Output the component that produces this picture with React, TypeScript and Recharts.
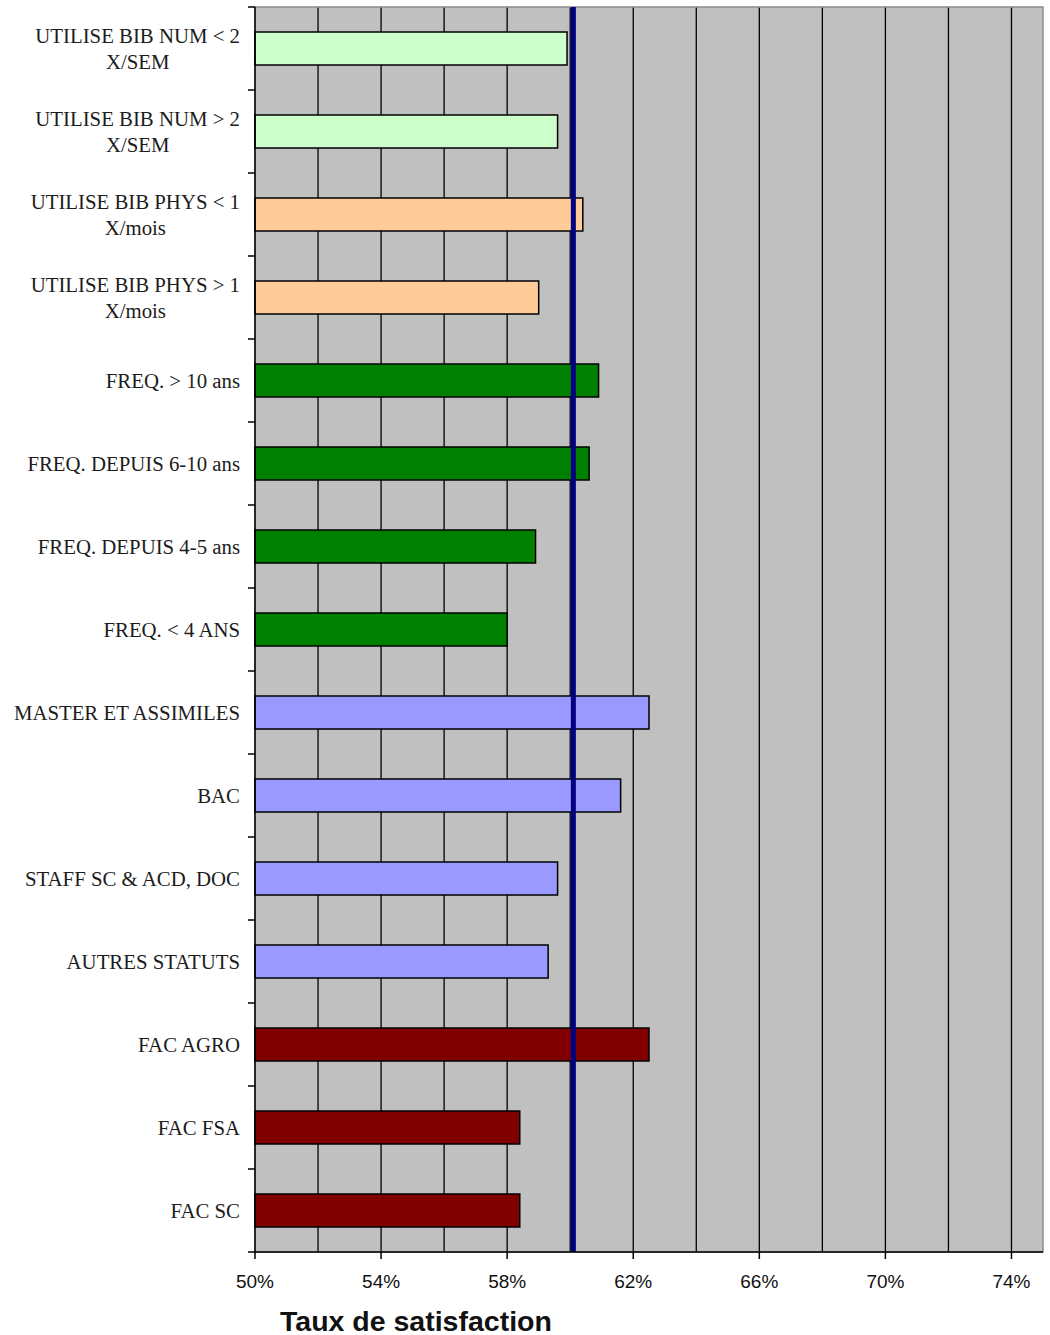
import { BarChart, Bar, XAxis, YAxis, CartesianGrid, ReferenceLine, ReferenceArea, Cell } from 'recharts';

// satisfaction rate per respondent group
const categories = [
  'UTILISE BIB NUM < 2\nX/SEM',
  'UTILISE BIB NUM > 2\nX/SEM',
  'UTILISE BIB PHYS < 1\nX/mois',
  'UTILISE BIB PHYS > 1\nX/mois',
  'FREQ. > 10 ans',
  'FREQ. DEPUIS 6-10 ans',
  'FREQ. DEPUIS 4-5 ans',
  'FREQ. < 4 ANS',
  'MASTER ET ASSIMILES',
  'BAC',
  'STAFF SC & ACD, DOC',
  'AUTRES STATUTS',
  'FAC AGRO',
  'FAC FSA',
  'FAC SC',
];
const values = [59.9, 59.6, 60.4, 59.0, 60.9, 60.6, 58.9, 58.0, 62.5, 61.6, 59.6, 59.3, 62.5, 58.4, 58.4];
const groups = ['num', 'num', 'phys', 'phys', 'freq', 'freq', 'freq', 'freq', 'statut', 'statut', 'statut', 'statut', 'fac', 'fac', 'fac'];
const xTicks = [50, 54, 58, 62, 66, 70, 74];
const gridTicks = [52, 54, 56, 58, 60, 62, 64, 66, 68, 70, 72, 74];
const average = 60.1;

const GROUP_COLORS: Record<string, string> = {
  num: '#CCFFCC',
  phys: '#FFCC99',
  freq: '#008000',
  statut: '#9999FF',
  fac: '#800000',
};

const data = categories.map((name, i) => ({ name, value: values[i], group: groups[i] }));

const AXIS_X = 255;
const LABEL_RIGHT = 240;
const BAND = (1252 - 7) / categories.length;
const LABEL_FONT = "'Liberation Serif', 'Times New Roman', serif";
const LABEL_SIZE = 20.8;
const SANS = "'Liberation Sans', Arial, sans-serif";

let ctx: CanvasRenderingContext2D | null = null;
const measure = (s: string) => {
  if (!ctx) ctx = document.createElement('canvas').getContext('2d');
  if (!ctx) return s.length * 10;
  ctx.font = `${LABEL_SIZE}px ${LABEL_FONT}`;
  return ctx.measureText(s).width;
};

const CatTick = (props: any) => {
  const { y, payload, index } = props;
  const half = payload.offset || BAND / 2;
  const lines = String(payload.value).split('\n');
  const lh = 26;
  const y0 = y - ((lines.length - 1) * lh) / 2;
  const multi = lines.length > 1;
  const cx = multi ? LABEL_RIGHT - Math.max(...lines.map(measure)) / 2 : LABEL_RIGHT;
  return (
    <g>
      <line x1={AXIS_X - 7} x2={AXIS_X} y1={y - half} y2={y - half} stroke="#000" strokeWidth={1.5} />
      {index === categories.length - 1 && (
        <line x1={AXIS_X - 7} x2={AXIS_X} y1={y + half} y2={y + half} stroke="#000" strokeWidth={1.5} />
      )}
      <text textAnchor={multi ? 'middle' : 'end'} fontFamily={LABEL_FONT} fontSize={LABEL_SIZE} fill="#1c1c1c">
        {lines.map((l, i) => (
          <tspan key={i} x={cx} y={y0 + i * lh} dy="0.35em">
            {l}
          </tspan>
        ))}
      </text>
    </g>
  );
};

// vertical grid every 2%, placed with the x axis scale
const gridX = ({ xAxis }: any) => {
  const s = xAxis && xAxis.scale;
  if (!s) return [];
  return gridTicks.map((v) => (typeof s === 'function' ? s(v) : s.map(v)));
};

export default function App() {
  return (
    <div style={{ position: 'absolute', left: 0, top: 0, width: 1050, height: 1335, background: '#fff' }}>
      <BarChart
        layout="vertical"
        width={1050}
        height={1335}
        data={data}
        margin={{ top: 7, right: 7, bottom: 0, left: 0 }}
        barCategoryGap={0}
      >
        <CartesianGrid
          horizontal={false}
          verticalCoordinatesGenerator={gridX}
          stroke="#000"
          strokeWidth={1.3}
          fill="#C0C0C0"
          fillOpacity={1}
        />
        <XAxis
          type="number"
          domain={[50, 75]}
          ticks={xTicks}
          interval={0}
          height={83}
          tickFormatter={(v: number) => `${v}%`}
          tickSize={7}
          tickMargin={16}
          tickLine={{ stroke: '#000', strokeWidth: 1.5 }}
          axisLine={{ stroke: '#000', strokeWidth: 1.5 }}
          tick={{ fill: '#111', fontSize: 19, fontFamily: SANS }}
        />
        <YAxis
          type="category"
          dataKey="name"
          width={AXIS_X}
          interval={0}
          tickLine={false}
          axisLine={{ stroke: '#000', strokeWidth: 1.5 }}
          tick={<CatTick />}
        />
        <ReferenceArea x1={50} x2={75} fill="none" stroke="#8a8a8a" strokeWidth={1.5} />
        <Bar dataKey="value" barSize={33} stroke="#000" strokeWidth={1.5} isAnimationActive={false}>
          {data.map((d, i) => (
            <Cell key={`cell-${i}`} fill={GROUP_COLORS[d.group]} />
          ))}
        </Bar>
        <ReferenceLine x={average} stroke="#000080" strokeWidth={5} />
      </BarChart>
      <div
        style={{
          position: 'absolute',
          left: 280,
          top: 1304,
          fontFamily: SANS,
          fontWeight: 'bold',
          fontSize: 28.5,
          lineHeight: '34px',
          color: '#111',
          whiteSpace: 'nowrap',
        }}
      >
        Taux de satisfaction
      </div>
    </div>
  );
}
